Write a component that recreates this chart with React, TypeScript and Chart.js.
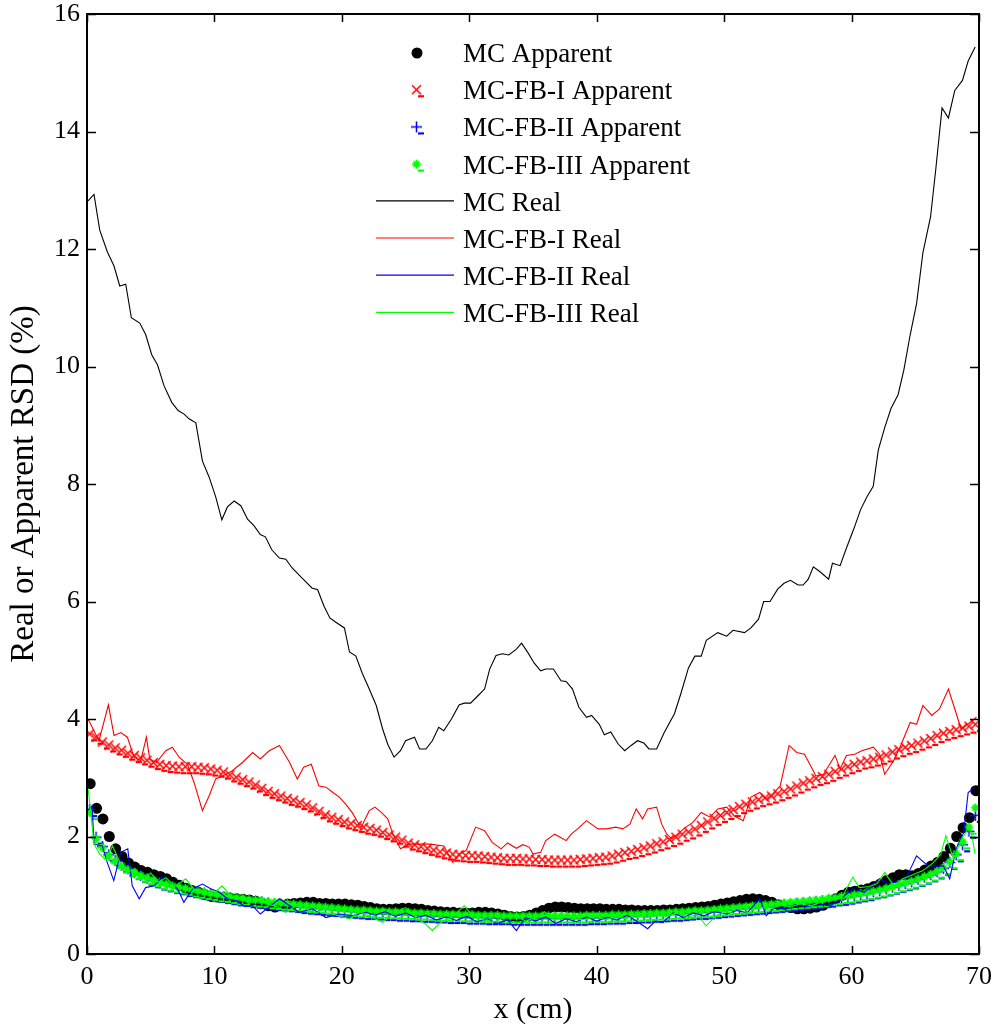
import React, { useEffect, useRef } from "react";
import { Chart, registerables } from "chart.js";

Chart.register(...registerables);

const FONT = '"Liberation Serif", "Times New Roman", serif';

const X_TICKS = [0, 10, 20, 30, 40, 50, 60, 70];
const Y_TICKS = [0, 2, 4, 6, 8, 10, 12, 14, 16];

const LEGEND_LABELS = [
  "MC Apparent",
  "MC-FB-I Apparent",
  "MC-FB-II Apparent",
  "MC-FB-III Apparent",
  "MC Real",
  "MC-FB-I Real",
  "MC-FB-II Real",
  "MC-FB-III Real",
];

// sampling positions (cm) of the apparent-RSD markers
const X_APPARENT = [
  0.25, 0.75, 1.25, 1.75, 2.25, 2.75, 3.25, 3.75, 4.25, 4.75,
  5.25, 5.75, 6.25, 6.75, 7.25, 7.75, 8.25, 8.75, 9.25, 9.75,
  10.25, 10.75, 11.25, 11.75, 12.25, 12.75, 13.25, 13.75, 14.25, 14.75,
  15.25, 15.75, 16.25, 16.75, 17.25, 17.75, 18.25, 18.75, 19.25, 19.75,
  20.25, 20.75, 21.25, 21.75, 22.25, 22.75, 23.25, 23.75, 24.25, 24.75,
  25.25, 25.75, 26.25, 26.75, 27.25, 27.75, 28.25, 28.75, 29.25, 29.75,
  30.25, 30.75, 31.25, 31.75, 32.25, 32.75, 33.25, 33.75, 34.25, 34.75,
  35.25, 35.75, 36.25, 36.75, 37.25, 37.75, 38.25, 38.75, 39.25, 39.75,
  40.25, 40.75, 41.25, 41.75, 42.25, 42.75, 43.25, 43.75, 44.25, 44.75,
  45.25, 45.75, 46.25, 46.75, 47.25, 47.75, 48.25, 48.75, 49.25, 49.75,
  50.25, 50.75, 51.25, 51.75, 52.25, 52.75, 53.25, 53.75, 54.25, 54.75,
  55.25, 55.75, 56.25, 56.75, 57.25, 57.75, 58.25, 58.75, 59.25, 59.75,
  60.25, 60.75, 61.25, 61.75, 62.25, 62.75, 63.25, 63.75, 64.25, 64.75,
  65.25, 65.75, 66.25, 66.75, 67.25, 67.75, 68.25, 68.75, 69.25, 69.75,
];

const MC_APPARENT = [
  2.9, 2.48, 2.3, 2.0, 1.79, 1.66, 1.55, 1.48, 1.42, 1.39,
  1.35, 1.32, 1.28, 1.22, 1.17, 1.12, 1.08, 1.05, 1.01, 0.98,
  0.97, 0.96, 0.95, 0.94, 0.93, 0.92, 0.9, 0.86, 0.82, 0.8,
  0.83, 0.85, 0.86, 0.87, 0.88, 0.88, 0.86, 0.86, 0.85, 0.85,
  0.85, 0.84, 0.83, 0.81, 0.79, 0.77, 0.76, 0.76, 0.77, 0.78,
  0.78, 0.77, 0.76, 0.74, 0.73, 0.72, 0.71, 0.71, 0.7, 0.7,
  0.7, 0.71, 0.71, 0.7, 0.68, 0.66, 0.64, 0.63, 0.64, 0.66,
  0.7, 0.74, 0.78, 0.8, 0.8, 0.79, 0.78, 0.77, 0.77, 0.77,
  0.77, 0.76, 0.76, 0.76, 0.75, 0.75, 0.74, 0.74, 0.74, 0.74,
  0.75, 0.75, 0.76, 0.77, 0.78, 0.79, 0.8, 0.81, 0.83, 0.85,
  0.87, 0.89, 0.91, 0.93, 0.94, 0.93, 0.91, 0.88, 0.84, 0.81,
  0.79, 0.77, 0.77, 0.78, 0.8, 0.83, 0.88, 0.94, 1.0, 1.05,
  1.07, 1.09, 1.11, 1.15, 1.19, 1.25, 1.3, 1.35, 1.35, 1.33,
  1.37, 1.43, 1.5, 1.56, 1.66, 1.8, 2.0, 2.15, 2.32, 2.78,
];

const FB1_APPARENT = [
  3.74, 3.68, 3.6, 3.55, 3.5, 3.46, 3.41, 3.37, 3.33, 3.29,
  3.25, 3.22, 3.2, 3.19, 3.18, 3.18, 3.18, 3.17, 3.16, 3.14,
  3.12, 3.09, 3.04, 3.0, 2.96, 2.92, 2.87, 2.81, 2.76, 2.72,
  2.68, 2.64, 2.61, 2.57, 2.53, 2.48, 2.42, 2.36, 2.32, 2.28,
  2.24, 2.21, 2.18, 2.15, 2.13, 2.1, 2.06, 2.02, 1.98, 1.93,
  1.88, 1.85, 1.82, 1.79, 1.76, 1.73, 1.71, 1.69, 1.68, 1.67,
  1.67, 1.66, 1.65, 1.64, 1.63, 1.62, 1.62, 1.62, 1.61, 1.61,
  1.6, 1.6, 1.59, 1.59, 1.59, 1.59, 1.59, 1.6, 1.61, 1.62,
  1.63, 1.64, 1.66, 1.69, 1.72, 1.74, 1.77, 1.8, 1.83, 1.87,
  1.9, 1.94, 1.98, 2.03, 2.07, 2.12, 2.18, 2.24, 2.3, 2.35,
  2.4, 2.45, 2.5, 2.54, 2.58, 2.62, 2.65, 2.68, 2.72, 2.76,
  2.8, 2.85, 2.9, 2.94, 2.98, 3.01, 3.05, 3.1, 3.14, 3.18,
  3.22, 3.26, 3.28, 3.31, 3.34, 3.38, 3.43, 3.47, 3.51, 3.54,
  3.58, 3.62, 3.66, 3.71, 3.75, 3.78, 3.81, 3.84, 3.87, 3.9,
];

const FB2_APPARENT = [
  2.45, 1.98, 1.82, 1.68, 1.58, 1.5, 1.44, 1.38, 1.33, 1.28,
  1.24, 1.2, 1.17, 1.14, 1.12, 1.09, 1.07, 1.05, 1.03, 1.01,
  0.99, 0.97, 0.95, 0.93, 0.92, 0.9, 0.89, 0.88, 0.86, 0.85,
  0.84, 0.83, 0.82, 0.8, 0.79, 0.78, 0.77, 0.76, 0.75, 0.74,
  0.73, 0.72, 0.71, 0.7, 0.7, 0.69, 0.68, 0.68, 0.67, 0.67,
  0.66, 0.66, 0.65, 0.65, 0.64, 0.64, 0.63, 0.63, 0.63, 0.62,
  0.62, 0.62, 0.61, 0.61, 0.61, 0.61, 0.6, 0.6, 0.6, 0.6,
  0.6, 0.6, 0.6, 0.6, 0.6, 0.6, 0.6, 0.6, 0.61, 0.61,
  0.61, 0.62, 0.62, 0.62, 0.63, 0.63, 0.64, 0.64, 0.65, 0.65,
  0.66, 0.67, 0.67, 0.68, 0.69, 0.7, 0.7, 0.71, 0.72, 0.73,
  0.74, 0.75, 0.76, 0.77, 0.78, 0.79, 0.8, 0.81, 0.82, 0.83,
  0.84, 0.85, 0.86, 0.87, 0.88, 0.9, 0.91, 0.93, 0.94, 0.96,
  0.98, 1.0, 1.02, 1.05, 1.07, 1.1, 1.13, 1.16, 1.19, 1.22,
  1.26, 1.3, 1.34, 1.39, 1.45, 1.55, 1.68, 1.85, 2.08, 2.35,
];

const FB3_APPARENT = [
  2.4, 1.95, 1.8, 1.66, 1.57, 1.49, 1.43, 1.38, 1.33, 1.29,
  1.25, 1.21, 1.18, 1.15, 1.13, 1.11, 1.08, 1.06, 1.04, 1.02,
  1.0, 0.99, 0.97, 0.95, 0.94, 0.92, 0.91, 0.9, 0.88, 0.87,
  0.86, 0.85, 0.84, 0.83, 0.82, 0.81, 0.8, 0.79, 0.78, 0.77,
  0.76, 0.75, 0.74, 0.74, 0.73, 0.72, 0.72, 0.71, 0.71, 0.7,
  0.7, 0.69, 0.69, 0.68, 0.68, 0.67, 0.67, 0.67, 0.66, 0.66,
  0.66, 0.65, 0.65, 0.65, 0.65, 0.64, 0.64, 0.64, 0.64, 0.64,
  0.64, 0.64, 0.64, 0.64, 0.64, 0.64, 0.64, 0.64, 0.65, 0.65,
  0.65, 0.65, 0.66, 0.66, 0.66, 0.67, 0.67, 0.68, 0.68, 0.69,
  0.69, 0.7, 0.71, 0.71, 0.72, 0.73, 0.73, 0.74, 0.75, 0.76,
  0.77, 0.78, 0.79, 0.8, 0.81, 0.82, 0.83, 0.84, 0.85, 0.86,
  0.87, 0.88, 0.89, 0.9, 0.91, 0.92, 0.94, 0.95, 0.97, 0.98,
  1.0, 1.02, 1.04, 1.06, 1.08, 1.11, 1.14, 1.17, 1.2, 1.23,
  1.27, 1.31, 1.35, 1.4, 1.46, 1.56, 1.7, 1.9, 2.15, 2.48,
];

// real RSD curves as [x (cm), RSD (%)] pairs
const MC_REAL = [
  [0.08, 12.82], [0.55, 12.93], [1.0, 12.32], [1.6, 11.95], [2.12, 11.71], [2.57, 11.37], [3.04, 11.4],
  [3.48, 10.83], [4.14, 10.74], [4.61, 10.54], [5.08, 10.2], [5.53, 10.03], [6.05, 9.67], [6.65, 9.39],
  [7.15, 9.25], [7.62, 9.19], [8.01, 9.11], [8.54, 9.04], [9.06, 8.39], [9.58, 8.12], [10.1, 7.78],
  [10.58, 7.39], [11.02, 7.61], [11.55, 7.71], [12.07, 7.63], [12.6, 7.4], [13.1, 7.29], [13.6, 7.14],
  [14.0, 7.1], [14.5, 6.88], [15.1, 6.74], [15.6, 6.72], [16.1, 6.57], [16.65, 6.45], [17.2, 6.33],
  [17.65, 6.23], [18.1, 6.2], [18.6, 5.92], [19.06, 5.72], [19.5, 5.65], [20.2, 5.55], [20.6, 5.14],
  [21.1, 5.07], [21.6, 4.78], [22.15, 4.51], [22.7, 4.23], [23.2, 3.83], [23.6, 3.57], [24.1, 3.35],
  [24.6, 3.46], [25.0, 3.63], [25.7, 3.69], [26.1, 3.49], [26.6, 3.49], [27.1, 3.63], [27.6, 3.86],
  [28.0, 3.8], [28.6, 4.0], [29.2, 4.24], [29.6, 4.27], [30.1, 4.27], [30.7, 4.4], [31.2, 4.51],
  [31.6, 4.85], [32.1, 5.08], [32.6, 5.11], [33.1, 5.09], [33.7, 5.19], [34.1, 5.29], [34.6, 5.13],
  [35.1, 4.95], [35.6, 4.82], [36.0, 4.85], [36.6, 4.85], [37.2, 4.65], [37.6, 4.64], [38.1, 4.51],
  [38.6, 4.2], [39.2, 4.03], [39.6, 4.06], [40.2, 3.91], [40.6, 3.73], [41.1, 3.78], [41.7, 3.57],
  [42.2, 3.46], [42.7, 3.55], [43.2, 3.63], [43.7, 3.59], [44.1, 3.49], [44.7, 3.49], [45.3, 3.77],
  [46.1, 4.09], [46.6, 4.43], [47.2, 4.87], [47.7, 5.07], [48.2, 5.07], [48.6, 5.34], [49.5, 5.47],
  [50.2, 5.41], [50.7, 5.51], [51.6, 5.47], [52.1, 5.55], [52.7, 5.7], [53.1, 6.0], [53.6, 6.0],
  [54.2, 6.21], [54.7, 6.31], [55.2, 6.36], [55.8, 6.28], [56.2, 6.28], [56.6, 6.38], [57.0, 6.59],
  [57.5, 6.51], [58.2, 6.38], [58.5, 6.65], [59.1, 6.61], [59.6, 6.91], [60.2, 7.25], [60.7, 7.56],
  [61.2, 7.78], [61.7, 7.96], [62.1, 8.58], [62.6, 8.96], [63.1, 9.29], [63.65, 9.52], [64.1, 9.94],
  [64.6, 10.54], [65.1, 11.07], [65.6, 11.94], [66.2, 12.55], [66.6, 13.34], [67.1, 14.4], [67.6, 14.23],
  [68.1, 14.7], [68.7, 14.87], [69.15, 15.2], [69.7, 15.44],
];

const FB1_REAL = [
  [0.08, 4.0], [0.94, 3.63], [1.68, 4.24], [2.12, 3.72], [2.65, 3.77], [3.17, 3.69], [3.69, 3.35],
  [4.22, 3.29], [4.66, 3.69], [4.92, 3.32], [5.45, 3.26], [6.18, 3.46], [6.7, 3.52], [7.23, 3.35],
  [7.88, 3.23], [8.4, 2.92], [9.06, 2.44], [9.58, 2.69], [10.1, 2.98], [10.9, 3.06], [11.4, 3.12],
  [12.2, 3.26], [13.0, 3.43], [13.6, 3.32], [14.3, 3.46], [15.1, 3.55], [15.9, 3.26], [16.5, 2.98],
  [17.0, 3.18], [17.6, 3.23], [18.2, 2.86], [18.75, 2.84], [19.3, 2.75], [19.8, 2.67], [20.3, 2.55],
  [20.8, 2.41], [21.5, 2.15], [22.15, 2.44], [22.6, 2.5], [23.1, 2.41], [23.6, 2.3], [24.0, 2.04],
  [24.6, 1.79], [25.3, 1.87], [26.1, 1.87], [26.9, 1.87], [28.0, 1.84], [28.7, 1.56], [29.2, 1.7],
  [29.75, 1.76], [30.5, 2.16], [31.2, 2.1], [31.8, 1.9], [32.5, 1.79], [33.0, 1.89], [33.7, 1.8],
  [34.2, 1.86], [34.7, 1.82], [35.0, 1.7], [35.6, 1.73], [36.0, 1.93], [36.7, 2.04], [37.1, 1.99],
  [37.6, 1.93], [38.0, 2.04], [38.5, 2.13], [39.2, 2.27], [40.1, 2.13], [40.75, 2.13], [41.5, 2.16],
  [42.05, 2.13], [42.6, 2.21], [43.1, 2.47], [43.6, 2.3], [44.0, 2.47], [44.7, 2.5], [45.1, 2.21],
  [45.5, 2.04], [45.9, 1.96], [46.5, 2.07], [47.0, 2.16], [47.55, 2.24], [48.2, 2.41], [48.9, 2.33],
  [49.5, 2.47], [50.2, 2.5], [50.8, 2.35], [51.5, 2.27], [52.1, 2.67], [52.8, 2.75], [53.3, 2.64],
  [53.8, 2.72], [54.4, 2.86], [55.1, 3.55], [55.7, 3.43], [56.3, 3.4], [56.8, 3.2], [57.2, 3.03],
  [57.8, 3.06], [58.7, 3.38], [59.1, 3.15], [59.6, 3.38], [60.25, 3.4], [60.8, 3.46], [61.7, 3.52],
  [62.2, 3.4], [62.6, 3.06], [63.3, 3.29], [63.9, 3.57], [64.6, 3.94], [65.1, 3.91], [65.6, 4.23],
  [66.3, 4.06], [66.9, 4.17], [67.6, 4.51], [68.1, 4.17], [68.6, 3.83], [69.3, 3.94], [69.8, 4.03],
];

const FB2_REAL = [
  [0.1, 2.45], [0.4, 2.52], [0.55, 1.87], [1.2, 1.84], [1.6, 1.55], [2.1, 1.25], [2.65, 1.73],
  [3.2, 1.79], [3.55, 1.16], [4.1, 0.94], [4.6, 1.13], [5.3, 1.16], [5.9, 1.31], [6.45, 1.25],
  [7.1, 1.11], [7.6, 0.88], [8.3, 1.11], [9.06, 1.19], [9.7, 1.11], [10.4, 1.05], [11.0, 0.94],
  [11.7, 0.91], [12.3, 0.82], [13.0, 0.82], [13.6, 0.68], [14.4, 0.82], [15.1, 0.94], [15.9, 0.82],
  [16.65, 0.71], [17.7, 0.77], [18.75, 0.62], [19.8, 0.68], [20.8, 0.65], [21.9, 0.71], [22.6, 0.66],
  [23.4, 0.72], [24.2, 0.64], [25.0, 0.7], [25.8, 0.62], [26.6, 0.66], [27.4, 0.58], [28.2, 0.63],
  [29.0, 0.57], [29.8, 0.64], [30.6, 0.55], [31.4, 0.6], [32.2, 0.52], [33.0, 0.58], [33.7, 0.4],
  [34.4, 0.62], [35.2, 0.56], [36.0, 0.63], [36.8, 0.52], [37.6, 0.6], [38.4, 0.55], [39.2, 0.63],
  [40.0, 0.56], [40.8, 0.62], [41.6, 0.58], [42.4, 0.66], [43.2, 0.55], [44.0, 0.43], [44.6, 0.56],
  [45.2, 0.54], [46.0, 0.7], [46.8, 0.62], [47.6, 0.7], [48.4, 0.65], [49.2, 0.72], [50.2, 0.68],
  [51.0, 0.74], [51.8, 0.7], [52.8, 0.94], [53.3, 0.65], [54.0, 0.8], [54.8, 0.76], [55.6, 0.84],
  [56.4, 0.8], [57.2, 0.86], [58.3, 0.82], [59.2, 0.95], [60.1, 1.11], [61.0, 1.05], [62.2, 1.28],
  [62.8, 1.2], [63.5, 1.22], [64.3, 1.3], [65.1, 1.67], [66.0, 1.5], [67.2, 1.5], [67.7, 1.28],
  [68.2, 1.79], [68.8, 2.07], [69.15, 2.75], [69.7, 2.84],
];

const FB3_REAL = [
  [0.1, 2.8], [0.55, 1.87], [1.0, 1.7], [1.5, 1.6], [2.0, 1.84], [2.6, 1.55], [3.2, 1.4],
  [3.8, 1.45], [4.4, 1.28], [5.0, 1.38], [5.6, 1.22], [6.2, 1.3], [6.9, 1.15], [7.75, 1.28],
  [8.4, 1.1], [9.1, 1.08], [9.8, 1.0], [10.6, 1.16], [11.3, 0.98], [12.0, 0.96], [12.7, 0.86],
  [13.5, 0.94], [14.3, 0.84], [15.0, 0.8], [15.6, 0.71], [16.4, 0.82], [17.2, 0.76], [18.0, 0.7],
  [18.8, 0.78], [19.6, 0.66], [20.6, 0.6], [21.4, 0.72], [22.2, 0.64], [23.2, 0.54], [24.1, 0.7],
  [25.0, 0.79], [25.8, 0.62], [26.5, 0.52], [27.1, 0.4], [27.8, 0.55], [28.6, 0.62], [29.6, 0.82],
  [30.4, 0.62], [31.2, 0.58], [32.0, 0.55], [32.8, 0.64], [33.6, 0.66], [34.4, 0.56], [35.2, 0.62],
  [35.9, 0.72], [36.7, 0.58], [37.5, 0.64], [38.3, 0.6], [39.1, 0.58], [39.9, 0.65], [40.7, 0.58],
  [41.5, 0.64], [42.3, 0.6], [43.1, 0.66], [43.9, 0.62], [44.7, 0.66], [45.5, 0.64], [46.3, 0.7],
  [47.1, 0.64], [47.9, 0.66], [48.6, 0.48], [49.4, 0.66], [50.2, 0.72], [51.0, 0.68], [52.0, 0.71],
  [52.8, 0.8], [53.6, 0.76], [54.4, 0.84], [55.2, 0.8], [56.0, 0.86], [56.8, 0.82], [57.6, 0.88],
  [58.4, 0.92], [59.2, 0.95], [60.1, 1.31], [60.6, 1.13], [61.4, 1.15], [62.0, 1.2], [62.6, 1.39],
  [63.3, 1.16], [64.0, 1.28], [64.8, 1.35], [65.6, 1.42], [66.4, 1.55], [67.0, 1.7], [67.4, 2.01],
  [68.0, 1.62], [68.6, 1.95], [69.3, 2.18], [69.7, 1.7],
];

const RED = "#ff0000";
const BLUE = "#0000ff";
const GREEN = "#00ff00";
const BLACK = "#000000";

function makeMarker(kind: string, color: string): HTMLCanvasElement {
  const c = document.createElement("canvas");
  c.width = 16;
  c.height = 16;
  const g = c.getContext("2d") as CanvasRenderingContext2D;
  g.strokeStyle = color;
  g.fillStyle = color;
  g.lineWidth = 1.5;
  g.beginPath();
  if (kind === "x") {
    g.moveTo(3, 3);
    g.lineTo(12, 12);
    g.moveTo(12, 3);
    g.lineTo(3, 12);
  } else if (kind === "plus") {
    g.moveTo(7.5, 2);
    g.lineTo(7.5, 13);
    g.moveTo(2, 7.5);
    g.lineTo(13, 7.5);
  } else {
    g.moveTo(7.5, 3);
    g.lineTo(7.5, 12);
    g.moveTo(3, 7.5);
    g.lineTo(12, 7.5);
    g.moveTo(4.5, 4.5);
    g.lineTo(10.5, 10.5);
    g.moveTo(10.5, 4.5);
    g.lineTo(4.5, 10.5);
  }
  g.stroke();
  if (kind === "star") {
    g.beginPath();
    g.arc(7.5, 7.5, 3, 0, Math.PI * 2);
    g.fill();
  }
  g.lineWidth = 2.2;
  g.beginPath();
  g.moveTo(9, 14);
  g.lineTo(15, 14);
  g.stroke();
  return c;
}

const toPoints = (xs: number[], ys: number[]) => xs.map((x, i) => ({ x, y: ys[i] }));
const pairsToPoints = (pairs: number[][]) => pairs.map((p) => ({ x: p[0], y: p[1] }));

export default function App() {
  const ref = useRef<HTMLCanvasElement | null>(null);

  useEffect(() => {
    const canvas = ref.current;
    if (!canvas) return;
    const redX = makeMarker("x", RED);
    const bluePlus = makeMarker("plus", BLUE);
    const greenStar = makeMarker("star", GREEN);

    const frame = {
      id: "matlabFrame",
      afterDatasetsDraw(chart: any) {
        const { ctx, chartArea, scales } = chart;
        const { left, right, top, bottom } = chartArea;
        ctx.save();
        ctx.strokeStyle = "#000";
        ctx.lineWidth = 1.5;
        ctx.beginPath();
        X_TICKS.forEach((v) => {
          const px = Math.round(scales.x.getPixelForValue(v)) + 0.5;
          ctx.moveTo(px, bottom);
          ctx.lineTo(px, bottom - 8);
          ctx.moveTo(px, top);
          ctx.lineTo(px, top + 8);
        });
        Y_TICKS.forEach((v) => {
          const py = Math.round(scales.y.getPixelForValue(v)) + 0.5;
          ctx.moveTo(left, py);
          ctx.lineTo(left + 9, py);
          ctx.moveTo(right, py);
          ctx.lineTo(right - 9, py);
        });
        ctx.stroke();
        ctx.lineWidth = 2;
        ctx.strokeRect(left, top, right - left, bottom - top);

        // legend
        const markX = 417;
        const lineX0 = 376;
        const lineX1 = 454;
        const textX = 463;
        const base0 = 62;
        const step = 37.2;
        ctx.font = `27px ${FONT}`;
        ctx.fillStyle = "#000";
        ctx.textAlign = "left";
        ctx.textBaseline = "alphabetic";
        LEGEND_LABELS.forEach((label, i) => {
          const base = base0 + i * step;
          const cy = base - 9;
          if (i === 0) {
            ctx.fillStyle = BLACK;
            ctx.beginPath();
            ctx.arc(markX, cy, 5.5, 0, Math.PI * 2);
            ctx.fill();
          } else if (i <= 3) {
            const img = i === 1 ? redX : i === 2 ? bluePlus : greenStar;
            ctx.drawImage(img, markX - 8, cy - 8);
          } else {
            const col = [BLACK, RED, BLUE, GREEN][i - 4];
            ctx.strokeStyle = col;
            ctx.lineWidth = 1.2;
            ctx.beginPath();
            ctx.moveTo(lineX0, cy - 1);
            ctx.lineTo(lineX1, cy - 1);
            ctx.stroke();
          }
          ctx.fillStyle = "#000";
          ctx.fillText(label, textX, base);
        });
        ctx.restore();
      },
    };

    const chart = new Chart(canvas, {
      type: "scatter",
      data: {
        datasets: [
          {
            label: LEGEND_LABELS[0],
            data: toPoints(X_APPARENT, MC_APPARENT),
            showLine: false,
            pointStyle: "circle",
            pointRadius: 5.5,
            pointBackgroundColor: BLACK,
            pointBorderColor: BLACK,
            pointBorderWidth: 0,
            order: 8,
          },
          {
            label: LEGEND_LABELS[1],
            data: toPoints(X_APPARENT, FB1_APPARENT),
            showLine: false,
            pointStyle: redX,
            pointRadius: 5,
            order: 7,
          },
          {
            label: LEGEND_LABELS[2],
            data: toPoints(X_APPARENT, FB2_APPARENT),
            showLine: false,
            pointStyle: bluePlus,
            pointRadius: 5,
            order: 6,
          },
          {
            label: LEGEND_LABELS[3],
            data: toPoints(X_APPARENT, FB3_APPARENT),
            showLine: false,
            pointStyle: greenStar,
            pointRadius: 5,
            order: 5,
          },
          {
            label: LEGEND_LABELS[4],
            data: pairsToPoints(MC_REAL),
            showLine: true,
            borderColor: BLACK,
            borderWidth: 1.1,
            pointRadius: 0,
            order: 4,
          },
          {
            label: LEGEND_LABELS[5],
            data: pairsToPoints(FB1_REAL),
            showLine: true,
            borderColor: RED,
            borderWidth: 1.1,
            pointRadius: 0,
            order: 3,
          },
          {
            label: LEGEND_LABELS[6],
            data: pairsToPoints(FB2_REAL),
            showLine: true,
            borderColor: BLUE,
            borderWidth: 1.1,
            pointRadius: 0,
            order: 2,
          },
          {
            label: LEGEND_LABELS[7],
            data: pairsToPoints(FB3_REAL),
            showLine: true,
            borderColor: GREEN,
            borderWidth: 1.1,
            pointRadius: 0,
            order: 1,
          },
        ],
      },
      options: {
        animation: false,
        responsive: false,
        devicePixelRatio: 1,
        layout: { padding: { top: 14, right: 14, left: 0, bottom: 0 } },
        plugins: {
          legend: { display: false },
          tooltip: { enabled: false },
        },
        scales: {
          x: {
            type: "linear",
            min: 0,
            max: 70,
            afterBuildTicks: (s: any) => {
              s.ticks = X_TICKS.map((v) => ({ value: v }));
            },
            afterFit: (s: any) => {
              s.height = 74;
              s.paddingLeft = 0;
              s.paddingRight = 0;
            },
            ticks: {
              font: { family: FONT, size: 26, lineHeight: 1 },
              color: "#000",
              padding: 10,
              maxRotation: 0,
              autoSkip: false,
            },
            grid: { display: false, drawTicks: false },
            border: { display: false },
            title: {
              display: true,
              text: "x (cm)",
              color: "#000",
              font: { family: FONT, size: 30 },
              padding: { top: 0, bottom: 0 },
            },
          },
          y: {
            type: "linear",
            min: 0,
            max: 16,
            afterBuildTicks: (s: any) => {
              s.ticks = Y_TICKS.map((v) => ({ value: v }));
            },
            afterFit: (s: any) => {
              s.width = 87;
              s.paddingTop = 0;
              s.paddingBottom = 0;
            },
            ticks: {
              font: { family: FONT, size: 26, lineHeight: 1 },
              color: "#000",
              padding: 7,
              autoSkip: false,
            },
            grid: { display: false, drawTicks: false },
            border: { display: false },
            title: {
              display: true,
              text: "Real or Apparent RSD (%)",
              color: "#000",
              font: { family: FONT, size: 33 },
              padding: { top: 5, bottom: 0 },
            },
          },
        },
      },
      plugins: [frame],
    } as any);

    return () => chart.destroy();
  }, []);

  return (
    <div
      style={{
        position: "absolute",
        left: 0,
        top: 0,
        width: 993,
        height: 1028,
        background: "#fff",
      }}
    >
      <canvas ref={ref} width={993} height={1028} style={{ display: "block", width: 993, height: 1028 }} />
    </div>
  );
}
